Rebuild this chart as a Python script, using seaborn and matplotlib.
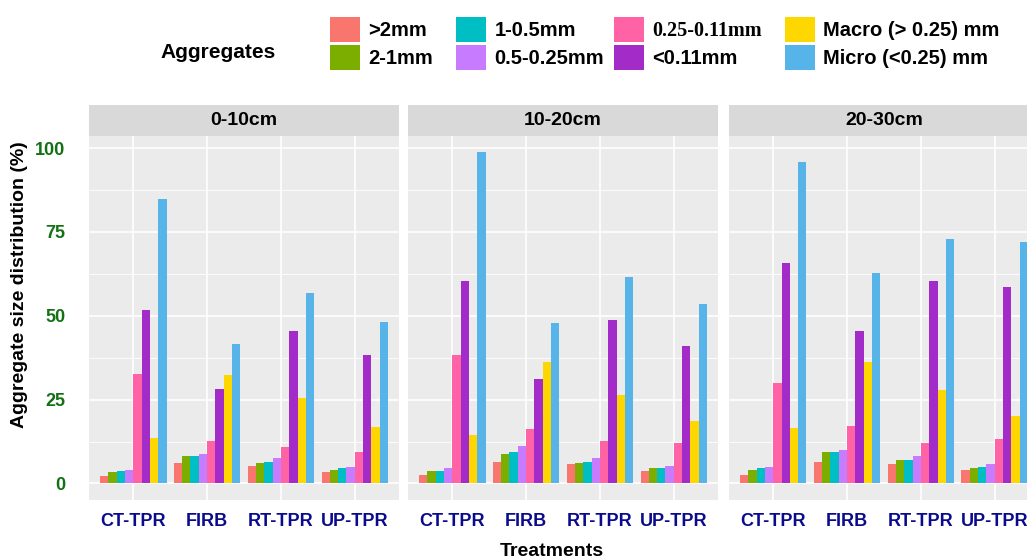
import pandas as pd
import seaborn as sns
import matplotlib.pyplot as plt
from matplotlib.patches import Patch, Rectangle
from matplotlib.ticker import MultipleLocator

# ---- data ----
treatments = ["CT-TPR", "FIRB", "RT-TPR", "UP-TPR"]
depths = ["0-10cm", "10-20cm", "20-30cm"]
aggregates = [">2mm", "2-1mm", "1-0.5mm", "0.5-0.25mm",
              "0.25-0.11mm", "<0.11mm", "Macro (> 0.25) mm", "Micro (<0.25) mm"]
colors = ["#F8766D", "#7CAE00", "#00BFC4", "#C77CFF",
          "#FF62A5", "#A32CC8", "#FFD700", "#56B4E9"]

# one row per aggregate class, values for CT-TPR, FIRB, RT-TPR, UP-TPR
vals_0_10 = [
    [2.2, 6.1, 5.3, 3.4],
    [3.3, 8.1, 6.1, 4.1],
    [3.7, 8.1, 6.5, 4.5],
    [4.1, 8.9, 7.7, 4.9],
    [32.7, 12.8, 10.9, 9.3],
    [51.7, 28.3, 45.4, 38.2],
    [13.7, 32.3, 25.6, 16.8],
    [84.7, 41.5, 56.9, 48.1],
]
vals_10_20 = [
    [2.5, 6.5, 5.7, 3.7],
    [3.7, 8.9, 6.1, 4.5],
    [3.7, 9.3, 6.5, 4.5],
    [4.5, 11.3, 7.7, 5.3],
    [38.3, 16.1, 12.8, 12.1],
    [60.5, 31.2, 48.7, 41.1],
    [14.5, 36.3, 26.4, 18.5],
    [98.7, 47.8, 61.7, 53.4],
]
vals_20_30 = [
    [2.5, 6.5, 5.7, 4.1],
    [4.1, 9.3, 6.9, 4.5],
    [4.5, 9.3, 6.9, 4.9],
    [4.9, 10.1, 8.1, 5.7],
    [29.9, 17.2, 12.1, 13.3],
    [65.7, 45.4, 60.5, 58.6],
    [16.4, 36.3, 28.0, 20.0],
    [95.9, 62.9, 72.9, 72.1],
]

rows = []
for depth, vals in zip(depths, [vals_0_10, vals_10_20, vals_20_30]):
    for agg, series in zip(aggregates, vals):
        for trt, v in zip(treatments, series):
            rows.append({"depth": depth, "Aggregates": agg, "Treatments": trt, "value": v})
df = pd.DataFrame(rows)

# ---- figure ----
sns.set_style("white")
plt.rcParams["font.family"] = ["Liberation Sans", "DejaVu Sans"]
plt.rcParams["font.weight"] = "bold"
plt.rcParams["text.color"] = "black"

W, H = 1027, 560
fig = plt.figure(figsize=(W / 100, H / 100), dpi=100)

panel_left = [89, 408, 729]
panel_w = 310
panel_top, panel_bottom = 136, 500
strip_h = 31

for i, depth in enumerate(depths):
    ax = fig.add_axes([panel_left[i] / W, (H - panel_bottom) / H,
                       panel_w / W, (panel_bottom - panel_top) / H])
    ax.set_facecolor("#EBEBEB")
    sns.barplot(data=df[df["depth"] == depth], x="Treatments", y="value",
                hue="Aggregates", order=treatments, hue_order=aggregates,
                palette=colors, saturation=1, width=0.9, errorbar=None,
                linewidth=0, legend=False, ax=ax)
    ax.set_xlim(-0.6, 3.6)
    ax.set_ylim(-4.93, 103.6)
    ax.set_yticks([0, 25, 50, 75, 100])
    ax.yaxis.set_minor_locator(MultipleLocator(12.5))
    ax.set_axisbelow(True)
    ax.grid(which="major", color="white", linewidth=1.2)
    ax.grid(which="minor", axis="y", color="white", linewidth=0.6)
    for s in ax.spines.values():
        s.set_visible(False)
    ax.tick_params(which="minor", length=0)
    ax.tick_params(axis="x", length=4, width=0.8, color="#333333", pad=5,
                   labelsize=13, labelcolor="#0A0A8C")
    ax.set_xlabel("")
    ax.set_ylabel("")
    if i == 0:
        ax.tick_params(axis="y", length=4, width=0.8, color="#333333", pad=13,
                       labelsize=13, labelcolor="#137013")
    else:
        ax.tick_params(axis="y", length=0, labelleft=False)

    # facet strip
    sh = strip_h / (panel_bottom - panel_top)
    ax.add_patch(Rectangle((0, 1), 1, sh, transform=ax.transAxes,
                           facecolor="#D9D9D9", edgecolor="none", clip_on=False))
    ax.text(0.5, 1 + sh / 2, depth, transform=ax.transAxes, ha="center",
            va="center", fontsize=14, fontweight="bold", color="black")

fig.text(20 / W, 1 - 285 / H, "Aggregate size distribution (%)", rotation=90,
         ha="center", va="center", fontsize=14, fontweight="bold", color="black")
fig.text(552 / W, 1 - 552 / H, "Treatments", ha="center", va="center",
         fontsize=14, fontweight="bold", color="black")

# ---- legend: title on the left, four columns of two keys ----
fig.text(160 / W, 1 - 52 / H, "Aggregates", ha="left", va="center",
         fontsize=15, fontweight="bold", color="black")
col_x = [330, 456, 614, 785]
for c in range(4):
    handles = [Patch(facecolor=colors[2 * c + k], edgecolor="none") for k in range(2)]
    labels = aggregates[2 * c:2 * c + 2]
    leg = fig.legend(handles, labels, loc="upper left",
                     bbox_to_anchor=(col_x[c] / W, 1 - 17 / H),
                     frameon=False, borderpad=0, borderaxespad=0,
                     handlelength=1.5, handleheight=1.55, handletextpad=0.4,
                     labelspacing=0.15, prop={"size": 14.5, "weight": "bold"})
    for t in leg.get_texts():
        t.set_color("black")
    if c == 2:
        leg.get_texts()[0].set_fontfamily(["Liberation Serif", "DejaVu Serif"])

fig.savefig("out.png", dpi=100)
